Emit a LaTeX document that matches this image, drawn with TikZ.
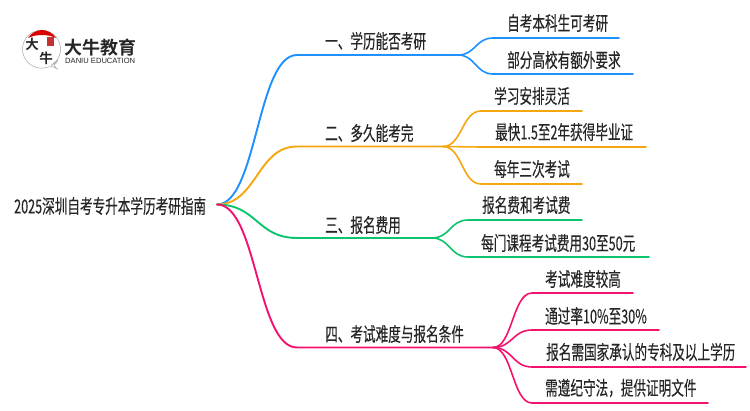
\documentclass[tikz,border=0pt]{standalone}
\usepackage{fontspec}
\newfontfamily\cjk[FakeStretch=0.65,FakeBold=0.25]{Noto Sans CJK SC}
\newfontfamily\cjkb{Noto Sans CJK SC Bold}
\newfontfamily\cjkl{Noto Sans CJK SC}
\setmainfont{Liberation Sans}
\definecolor{cblue}{HTML}{1E90FF}
\definecolor{corange}{HTML}{F5A70F}
\definecolor{cgreen}{HTML}{0CC46E}
\definecolor{cpink}{HTML}{F5126E}
\definecolor{ink}{HTML}{262626}
\tikzset{
  txt/.style={font=\cjk\fontsize{19.4}{19.4}\selectfont,text=ink,anchor=west,inner sep=0pt},
  wire/.style={line width=1.6pt,line cap=round,line join=round},
  stem/.style={line width=1.9pt,line cap=round,line join=round}
}
\newcommand{\branch}[4]{% colour, from, start, end
  \draw[stem,#1] (#2) .. controls ($(#2)!.5!(#3|-#2)$) and ($(#2|-#3)!.5!(#3)$) .. (#3) -- (#4);
}
\usetikzlibrary{calc}
\begin{document}
\begin{tikzpicture}[x=1pt,y=-1pt]
\useasboundingbox (0,0) rectangle (750,410);
\fill[white] (0,0) rectangle (750,410);
% logo
\draw[line width=.5pt,draw=black!35,fill=white] (57,69) .. controls (53,66) and (51,66) .. (48,67) arc[start angle=70,end angle=420,radius=19] .. controls (61,56) and (58,62) .. (54,65) -- cycle;
\fill[red!85!black] (28,38) .. controls (31,33) and (37,30) .. (42,30) .. controls (47,30) and (53,33) .. (56,38) .. controls (48,34) and (36,34) .. (28,38) -- cycle;
\fill[red!70!black!80] (47,37) rectangle (54,46);
\node[inner sep=0pt,font=\cjkb\fontsize{13.5}{13.5}\selectfont,text=ink] (logoa) at (32,44) {大};
\node[inner sep=0pt,font=\cjkb\fontsize{13.5}{13.5}\selectfont,text=ink] (logob) at (46,58.5) {牛};
\node[inner sep=0pt,anchor=west,font=\cjkb\fontsize{18}{18}\selectfont,text=ink] (logoc) at (64,47.5) {大牛教育};
\node[inner sep=0pt,anchor=west,font=\fontsize{7.6}{8}\selectfont,text=ink] (logod) at (65,60.5) {DANIU EDUCATION};
% root
\node[txt] (root) at (14,206) {2025深圳自考专升本学历考研指南};
\coordinate (o) at (217,204.5);
% level 1
\node[txt] (n1) at (325,41) {一、学历能否考研};
\node[txt] (n2) at (325,133) {二、多久能考完};
\node[txt] (n3) at (325,225) {三、报名费用};
\node[txt] (n4) at (325,334) {四、考试难度与报名条件};
\coordinate (s1) at (297,55); \coordinate (e1) at (458,55);
\coordinate (s2) at (297,146.5); \coordinate (e2) at (443,146.5);
\coordinate (s3) at (297,238); \coordinate (e3) at (432,238);
\coordinate (s4) at (297,347.5); \coordinate (e4) at (493,347.5);
\branch{cblue}{o}{s1}{e1}
\branch{corange}{o}{s2}{e2}
\branch{cgreen}{o}{s3}{e3}
\branch{cpink}{o}{s4}{e4}
% level 2
\foreach \nm/\tx/\xx/\yy/\sx/\ex/\ly/\from/\col in {
  a/自考本科生可考研/507/23/493/619/38/e1/cblue,
  b/部分高校有额外要求/507/60/493/633/74/e1/cblue,
  c/学习安排灵活/494/96/481/582/111/e2/corange,
  d/最快1.5至2年获得毕业证/495/132/481/646/147/e2/corange,
  e/每年三次考试/494/169/481/582/184/e2/corange,
  f/报名费和考试费/482/205/468/582/220/e3/cgreen,
  g/每门课程考试费用30至50元/481/243/468/649/257/e3/cgreen,
  h/考试难度较高/545/279/532/633/293/e4/cpink,
  i/通过率10\%至30\%/545/316/532/659/330/e4/cpink,
  j/报名需国家承认的专科及以上学历/546/352/532/746/367/e4/cpink,
  k/需遵纪守法，提供证明文件/545/388/532/708/403/e4/cpink}{
  \node[txt] (t\nm) at (\xx,\yy) {\tx};
  \coordinate (ls\nm) at (\sx,\ly);
  \coordinate (le\nm) at (\ex,\ly);
  \draw[wire,\col] (\from) .. controls ($(\from)!.5!(ls\nm|-\from)$) and ($(\from|-ls\nm)!.5!(ls\nm)$) .. (ls\nm) -- (le\nm);
}
\end{tikzpicture}
\end{document}
